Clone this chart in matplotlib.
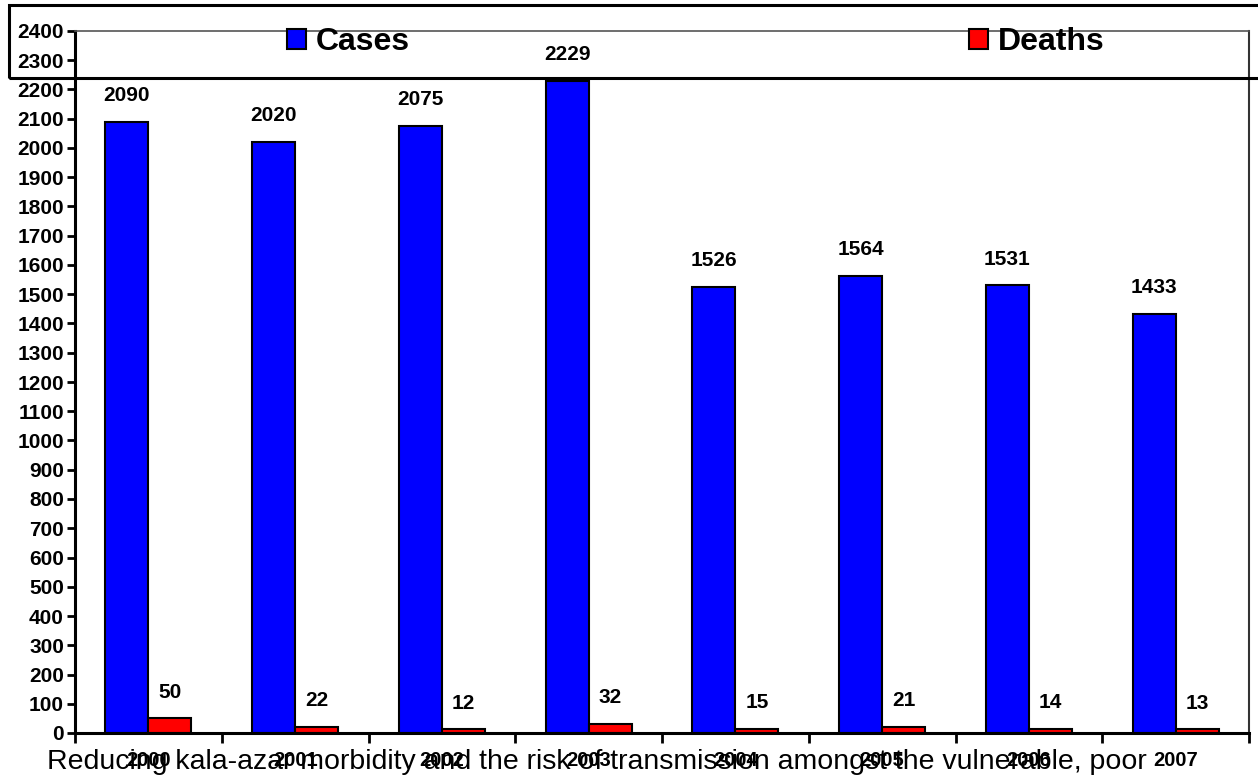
import matplotlib.pyplot as plt
import numpy as np
from matplotlib.patches import Rectangle

plt.rcParams["font.family"] = ["Liberation Sans", "DejaVu Sans"]

years = ["2000", "2001", "2002", "2003", "2004", "2005", "2006", "2007"]
cases = [2090, 2020, 2075, 2229, 1526, 1564, 1531, 1433]
deaths = [50, 22, 12, 32, 15, 21, 14, 13]

footer = "Reducing kala-azar morbidity and the risk of transmission amongst the vulnerable, poor"

fig = plt.figure(figsize=(12.58, 7.78), dpi=100)
ax = fig.add_axes([75 / 1258, 1 - 733 / 778, 1174 / 1258, 702 / 778])

x = np.arange(len(years))
w = 0.293
b1 = ax.bar(x - w / 2, cases, w, color="#0000ff", edgecolor="black", linewidth=1.5, label="Cases")
b2 = ax.bar(x + w / 2, deaths, w, color="#ff0000", edgecolor="black", linewidth=1.5, label="Deaths")

for bars, vals in ((b1, cases), (b2, deaths)):
    for r, v in zip(bars, vals):
        ax.annotate(str(v), (r.get_x() + r.get_width() / 2, v), xytext=(0, 12),
                    textcoords="offset points", ha="center", va="bottom",
                    fontsize=15, fontweight="bold")

ax.set_xlim(-0.5, len(years) - 0.5)
ax.set_ylim(0, 2400)
ax.set_yticks(np.arange(0, 2401, 100))
ax.set_yticklabels([str(v) for v in range(0, 2401, 100)], fontsize=15, fontweight="bold")

# year labels sit between the boundary ticks
ax.set_xticks(np.arange(-0.5, len(years)), minor=False)
ax.set_xticklabels([])
ax.set_xticks(x, minor=True)
ax.set_xticklabels(years, minor=True, fontsize=14.5, fontweight="bold")
ax.tick_params(axis="x", which="major", length=7, width=2, direction="out")
ax.tick_params(axis="x", which="minor", length=0, pad=13)
ax.tick_params(axis="y", length=6, width=2, direction="out", pad=2)

for s in ("left", "bottom"):
    ax.spines[s].set_linewidth(2.2)
ax.spines["top"].set_color("#555555")
ax.spines["top"].set_linewidth(1.2)
ax.spines["right"].set_color("#333333")
ax.spines["right"].set_linewidth(1.5)

leg = fig.legend(handles=[b1, b2], loc="center", bbox_to_anchor=(696 / 1258, 1 - 42 / 778),
                 ncol=2, frameon=False, prop={"size": 23, "weight": "bold"},
                 handlelength=0.6, handleheight=0.6, handletextpad=0.3, columnspacing=17.5)

fig.patches.append(Rectangle((9 / 1258, 1 - 78 / 778), 1.0, 73 / 778, transform=fig.transFigure,
                             fill=False, edgecolor="black", linewidth=2.2))

fig.text(47 / 1258, 1 - 762 / 778, footer, fontsize=20.5, va="center", ha="left")

fig.savefig("out.png", dpi=100)
